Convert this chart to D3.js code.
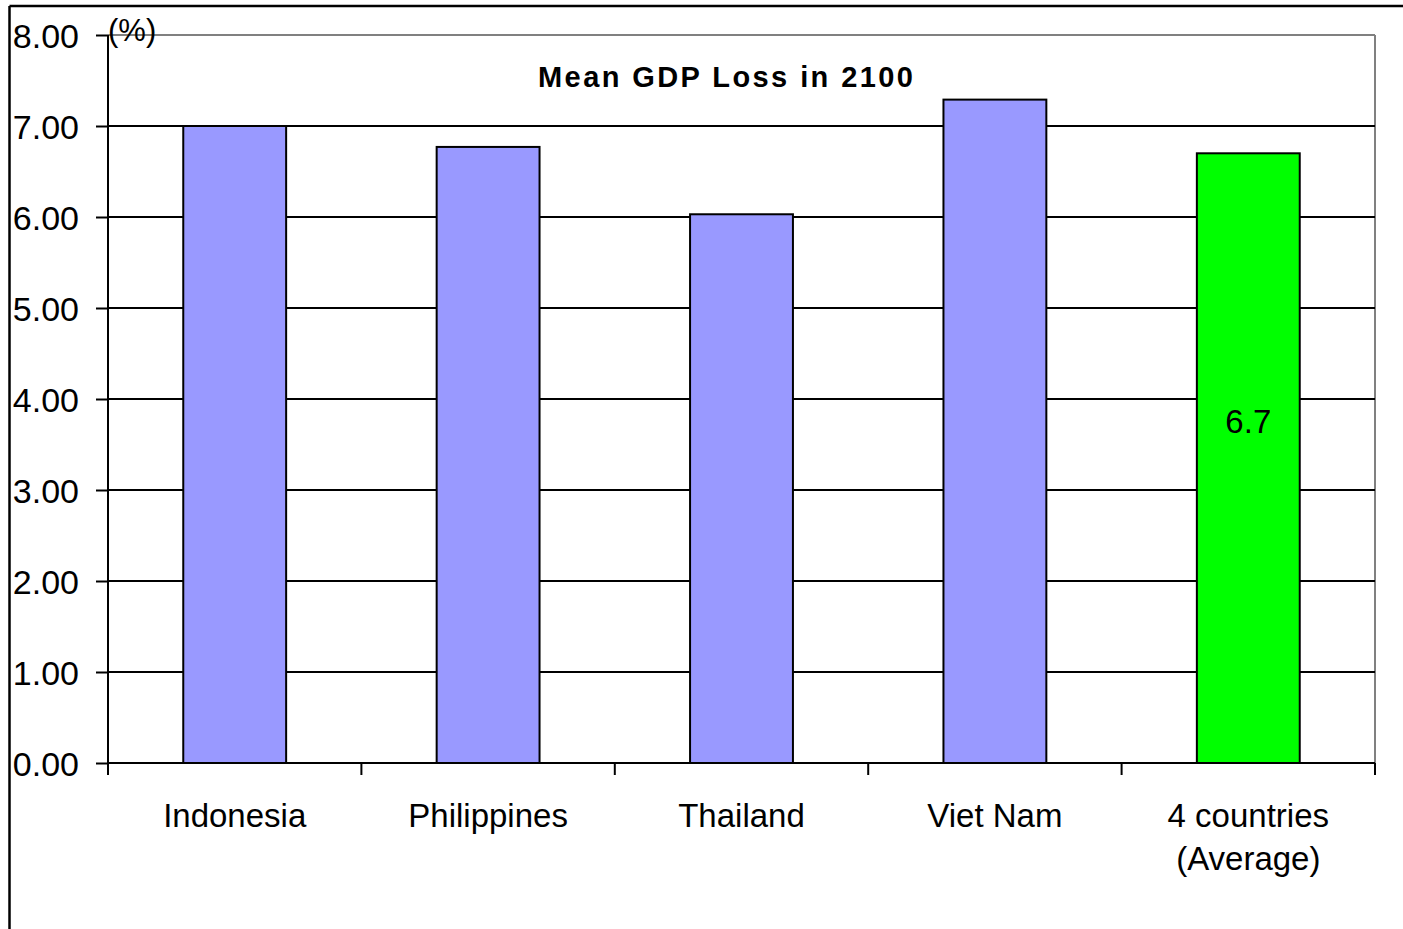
<!DOCTYPE html>
<html>
<head>
<meta charset="utf-8">
<script src="https://cdn.jsdelivr.net/npm/d3@7"></script>
<style>
  html, body { margin: 0; padding: 0; background: #fff; }
  svg { display: block; font-family: "Liberation Sans", Arial, sans-serif; }
</style>
</head>
<body>
<svg id="chart" width="1403" height="929"></svg>
<script>
// Mean GDP loss in 2100, by country (%)
const categories = ["Indonesia", "Philippines", "Thailand", "Viet Nam", "4 countries\n(Average)"];
const gdpLoss = [7.0, 6.77, 6.03, 7.29, 6.7];
const barColors = ["#9999FF", "#9999FF", "#9999FF", "#9999FF", "#00FF00"];
const valueLabels = [null, null, null, null, "6.7"];
const yTicks = [0, 1, 2, 3, 4, 5, 6, 7, 8];
const yTickLabels = ["0.00", "1.00", "2.00", "3.00", "4.00", "5.00", "6.00", "7.00", "8.00"];
const chartTitle = "Mean GDP Loss in 2100";
const unitLabel = "(%)";

const svg = d3.select("#chart");
const plot = { left: 108, right: 1375, top: 35, bottom: 763 };

const x = d3.scaleBand().domain(categories).range([plot.left, plot.right]).padding(0);
const y = d3.scaleLinear().domain([0, 8]).range([plot.bottom, plot.top]);
const barW = x.bandwidth() * 0.406;

// outer frame (top and left edges)
svg.append("line").attr("x1", 9.5).attr("x2", 1403).attr("y1", 6).attr("y2", 6)
  .attr("stroke", "#000").attr("stroke-width", 2.5);
svg.append("line").attr("x1", 9.5).attr("x2", 9.5).attr("y1", 6).attr("y2", 929)
  .attr("stroke", "#000").attr("stroke-width", 2.5);

// plot area border (grey, top and right)
svg.append("line").attr("x1", plot.left).attr("x2", plot.right).attr("y1", plot.top).attr("y2", plot.top)
  .attr("stroke", "#808080").attr("stroke-width", 2);
svg.append("line").attr("x1", plot.right).attr("x2", plot.right).attr("y1", plot.top).attr("y2", plot.bottom)
  .attr("stroke", "#808080").attr("stroke-width", 2);

// horizontal gridlines
svg.append("g").selectAll("line")
  .data(yTicks.filter(d => d > 0 && d < 8))
  .join("line")
  .attr("x1", plot.left).attr("x2", plot.right)
  .attr("y1", d => y(d)).attr("y2", d => y(d))
  .attr("stroke", "#000").attr("stroke-width", 2);

// bars
svg.append("g").selectAll("rect")
  .data(gdpLoss)
  .join("rect")
  .attr("x", (d, i) => x(categories[i]) + (x.bandwidth() - barW) / 2)
  .attr("y", d => y(d))
  .attr("width", barW)
  .attr("height", d => y(0) - y(d))
  .attr("fill", (d, i) => barColors[i])
  .attr("stroke", "#000").attr("stroke-width", 2);

// value label inside the average bar
svg.append("g").selectAll("text")
  .data(gdpLoss.map((v, i) => ({ v, i })).filter(d => valueLabels[d.i]))
  .join("text")
  .attr("x", d => x(categories[d.i]) + x.bandwidth() / 2)
  .attr("y", d => y(d.v / 2) - 25)
  .attr("text-anchor", "middle")
  .attr("font-size", 33)
  .attr("fill", "#000")
  .text(d => valueLabels[d.i]);

// y axis
const yAxis = d3.axisLeft(y).tickValues(yTicks).tickSize(12).tickPadding(17)
  .tickFormat((d, i) => yTickLabels[i]);
const gy = svg.append("g").attr("transform", `translate(${plot.left},0)`).call(yAxis);
gy.select(".domain").remove();
gy.selectAll(".tick line").attr("stroke", "#000").attr("stroke-width", 2);
gy.selectAll(".tick text").attr("font-size", 34).attr("fill", "#000").attr("dy", "0.38em")
  .attr("font-family", "'Liberation Sans', Arial, sans-serif");
svg.append("line").attr("x1", plot.left).attr("x2", plot.left).attr("y1", plot.top).attr("y2", plot.bottom + 12)
  .attr("stroke", "#000").attr("stroke-width", 2);

// x axis: baseline and category boundary ticks
svg.append("line").attr("x1", plot.left).attr("x2", plot.right).attr("y1", plot.bottom).attr("y2", plot.bottom)
  .attr("stroke", "#000").attr("stroke-width", 2);
const boundaries = categories.map(c => x(c)).concat([plot.right]);
svg.append("g").selectAll("line")
  .data(boundaries.slice(1))
  .join("line")
  .attr("x1", d => d).attr("x2", d => d)
  .attr("y1", plot.bottom).attr("y2", plot.bottom + 12)
  .attr("stroke", "#000").attr("stroke-width", 2);

// category labels
const xl = svg.append("g").selectAll("text")
  .data(categories)
  .join("text")
  .attr("x", d => x(d) + x.bandwidth() / 2)
  .attr("y", 827)
  .attr("text-anchor", "middle")
  .attr("font-size", 33)
  .attr("fill", "#000");
xl.selectAll("tspan")
  .data(d => d.split("\n").map(s => ({ s, parent: d })))
  .join("tspan")
  .attr("x", d => x(d.parent) + x.bandwidth() / 2)
  .attr("dy", (d, i) => i === 0 ? 0 : 43)
  .text(d => d.s);

// title
svg.append("text")
  .attr("x", 725.5).attr("y", 87)
  .attr("text-anchor", "middle")
  .attr("font-size", 29).attr("font-weight", "bold")
  .attr("textLength", 375).attr("lengthAdjust", "spacing")
  .attr("fill", "#000")
  .text(chartTitle);

// unit label
svg.append("text")
  .attr("x", 108).attr("y", 41)
  .attr("font-size", 31)
  .attr("fill", "#000")
  .text(unitLabel);
</script>
</body>
</html>
